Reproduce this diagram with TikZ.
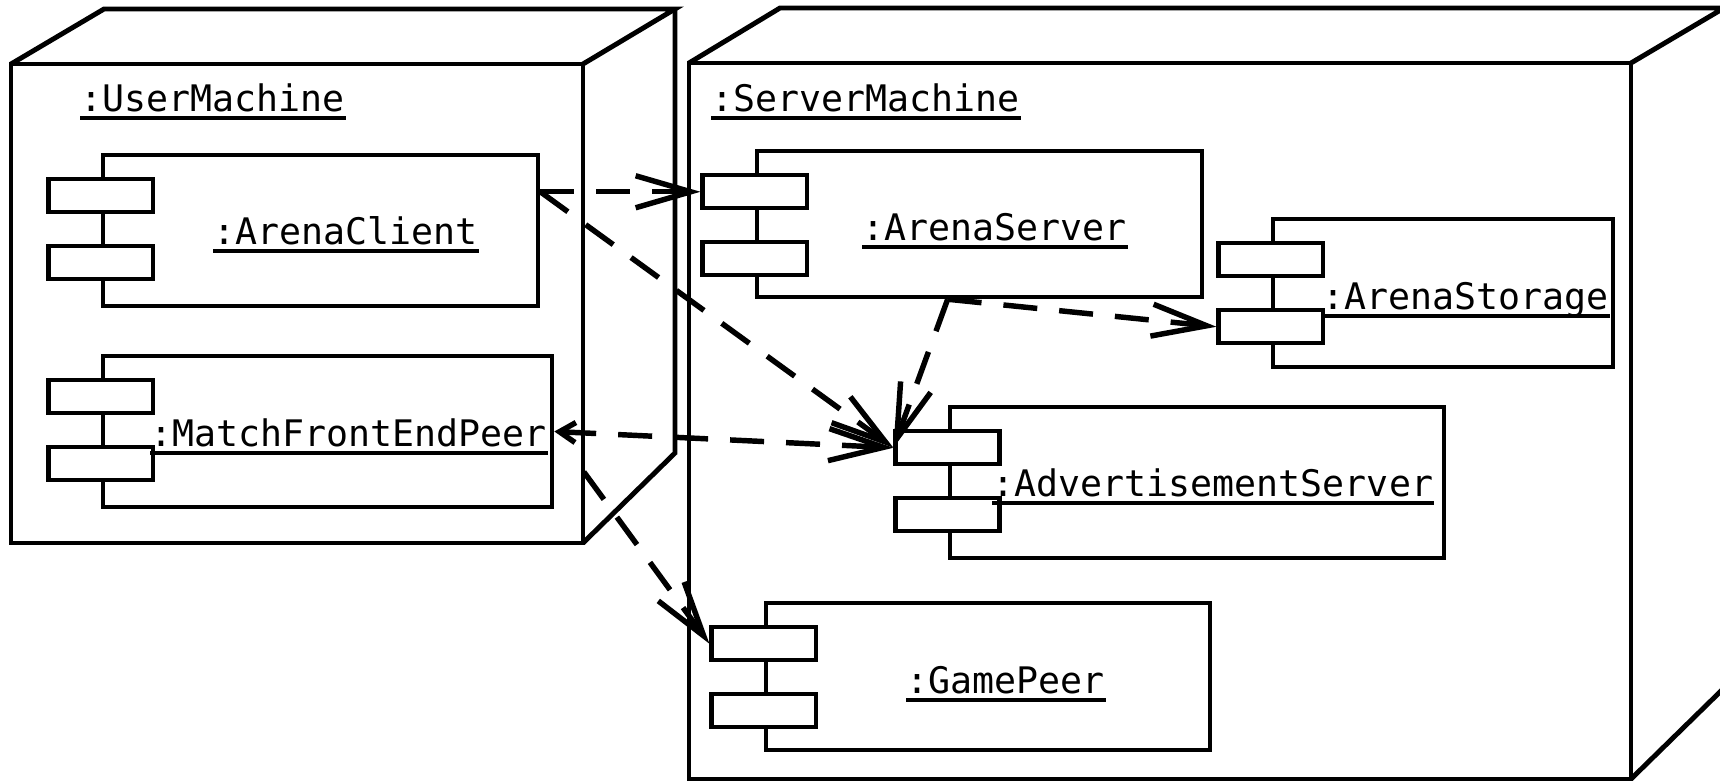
\documentclass[tikz,border=0pt]{standalone}
\usepackage{fontspec}
\newfontfamily\umlfont{DejaVu Sans Mono}
\usetikzlibrary{arrows.meta, calc}

\tikzset{
    machine/.style={line width=1.4pt},
    comp/.style={rectangle, draw, line width=1.25pt, inner sep=0pt},
    port/.style={rectangle, draw, fill=white, line width=1.25pt, minimum width=1.04cm, minimum height=0.33cm, inner sep=0pt},
    lbl/.style={inner sep=0pt, anchor=base west, font=\umlfont\fontsize{10.4pt}{12pt}\selectfont},
    uline/.style={line width=1.15pt},
    dep/.style={line width=1.55pt, dash pattern=on 0.34cm off 0.22cm, ->},
    >={Straight Barb[length=5.5mm, width=3.2mm]}
}

\begin{document}
\begin{tikzpicture}[x=0.01cm, y=-0.01cm]
        \clip (0,0) rectangle (1720,781);

        % Draw machines
        \draw[machine] (11,64) rectangle (583,543);
        \draw[machine] (11,64) -- (104,9) -- (675,9) -- (583,64);
        \draw[machine] (675,9) -- (675,453) -- (583,543);
        \draw[machine] (689,63) rectangle (1631,779);
        \draw[machine] (689,63) -- (780,8) -- (1724,8) -- (1631,63);
        \draw[machine] (1724,8) -- (1724,688) -- (1631,779);

        % Define components
        \node (ac) [comp, minimum width=4.35cm, minimum height=1.51cm] at (320.5,230.5) {};
        \node (mfe) [comp, minimum width=4.49cm, minimum height=1.51cm] at (327.5,431.5) {};
        \node (as) [comp, minimum width=4.45cm, minimum height=1.46cm] at (979.5,224) {};
        \node (ast) [comp, minimum width=3.40cm, minimum height=1.48cm] at (1443,293) {};
        \node (ads) [comp, minimum width=4.94cm, minimum height=1.51cm] at (1197,482.5) {};
        \node (gp) [comp, minimum width=4.44cm, minimum height=1.47cm] at (988,676.5) {};
        \foreach \c in {ac,mfe,as,ast,ads,gp} {
            \node (\c1) [port] at ($(\c.north west)+(0,43)$) {};
            \node (\c2) [port] at ($(\c.north west)+(0,110)$) {};
        }

        % Define labels
        \node (um-l) [lbl] at (80,111) {:UserMachine};
        \node (sm-l) [lbl] at (711,111) {:ServerMachine};
        \node (ac-l) [lbl] at (213,244) {:ArenaClient};
        \node (mfe-l) [lbl] at (150,446) {:MatchFrontEndPeer};
        \node (as-l) [lbl] at (862,240) {:ArenaServer};
        \node (ast-l) [lbl] at (1322,309) {:ArenaStorage};
        \node (ads-l) [lbl] at (992,496) {:AdvertisementServer};
        \node (gp-l) [lbl] at (906,693) {:GamePeer};
        \foreach \l in {um,sm,ac,mfe,as,ast,ads,gp}
            \draw[uline] ($(\l-l.base west)+(0,7)$) -- ($(\l-l.base east)+(0,7)$);

        % Draw dependencies
        \draw[dep] (ac.east |- as1) -- (as1.west);
        \draw[dep] (ac.east |- as1) -- (ads1.west);
        \draw[dep, {Straight Barb[length=1.6mm, width=2mm]}->] (mfe.east) -- (ads1.west);
        \draw[dep, shorten <=0.5cm] (mfe.east) -- (gp1.west);
        \draw[dep] (as.south -| ads1) -- (ast2.west);
        \draw[dep] (as.south -| ads1) -- (ads1.west);
\end{tikzpicture}
\end{document}
